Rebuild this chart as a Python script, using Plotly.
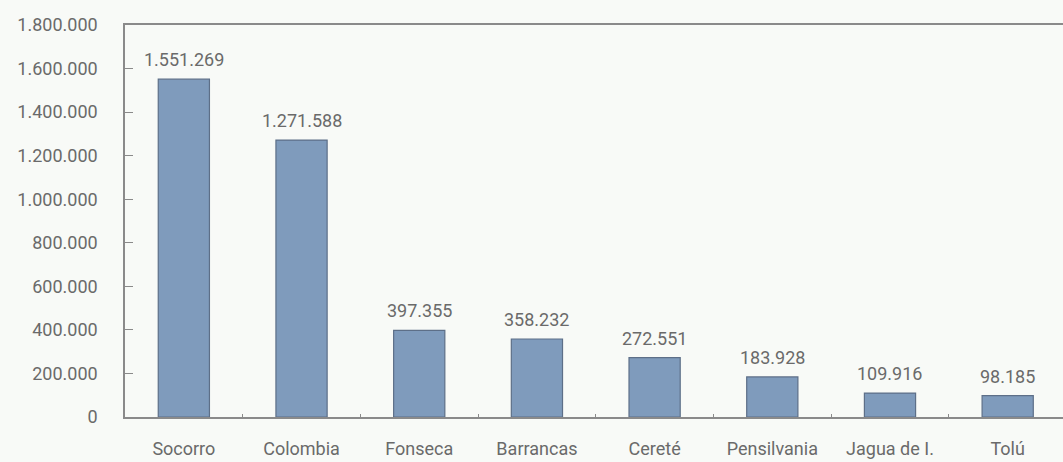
import plotly.graph_objects as go

# Municipalities and their values
municipios = ["Socorro", "Colombia", "Fonseca", "Barrancas", "Cereté",
              "Pensilvania", "Jagua de I.", "Tolú"]
valores = [1551269, 1271588, 397355, 358232, 272551, 183928, 109916, 98185]

# Y-axis tick positions and their labels (dot as thousands separator)
y_ticks = [0, 200000, 400000, 600000, 800000, 1000000, 1200000, 1400000, 1600000, 1800000]
y_labels = ["0", "200.000", "400.000", "600.000", "800.000", "1.000.000",
            "1.200.000", "1.400.000", "1.600.000", "1.800.000"]

FONT = "Roboto, Arial Narrow, sans-serif"
TXT = "#6a6a6a"
AXIS = "#8a8a8a"
BG = "#f8faf7"

etiquetas = [f"{v:,}".replace(",", ".") for v in valores]

fig = go.Figure(
    go.Bar(
        x=municipios,
        y=valores,
        width=0.435,
        marker=dict(color="#7f9bbc", line=dict(color="#5d6f88", width=1.2)),
        hoverinfo="x+y",
    )
)

# Value labels above each bar
for m, v, t in zip(municipios, valores, etiquetas):
    fig.add_annotation(
        x=m, y=v, text=t, showarrow=False,
        yanchor="bottom", yshift=7,
        font=dict(family=FONT, size=18, color=TXT),
    )

fig.update_layout(
    width=1063,
    height=462,
    margin=dict(l=125, r=0, t=25, b=45),
    paper_bgcolor=BG,
    plot_bgcolor=BG,
    showlegend=False,
    font=dict(family=FONT, size=18, color=TXT),
)

fig.update_xaxes(
    range=[-0.5, 7.47],
    showline=True,
    linecolor=AXIS,
    linewidth=1.5,
    mirror=True,
    ticks="inside",
    tickson="boundaries",
    ticklen=3,
    tickcolor=AXIS,
    showgrid=False,
    ticklabelstandoff=15,
    tickfont=dict(family=FONT, size=18, color=TXT),
)

fig.update_yaxes(
    range=[0, 1800000],
    tickvals=y_ticks,
    ticktext=y_labels,
    showline=True,
    linecolor=AXIS,
    linewidth=1.5,
    ticks="inside",
    ticklen=8,
    tickcolor=AXIS,
    showgrid=False,
    zeroline=False,
    ticklabelstandoff=22,
    tickfont=dict(family=FONT, size=18, color=TXT),
)

fig.write_html("out.html")
